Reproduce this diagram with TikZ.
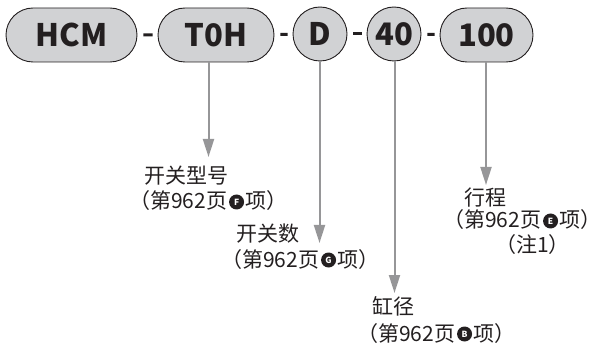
\documentclass[tikz,border=0pt]{standalone}
\usepackage{fontspec}
\setmainfont{Noto Sans CJK SC}
\usetikzlibrary{arrows.meta,shapes.misc}
\definecolor{boxgray}{RGB}{209,210,212}
\definecolor{arrowgray}{RGB}{150,150,152}
\definecolor{ink}{RGB}{35,31,32}
\tikzset{
	pill/.style={rounded rectangle,draw=ink,line width=0.9pt,fill=boxgray,minimum height=54pt,inner sep=0pt,text=ink,font=\bfseries\fontsize{31}{31}\selectfont},
	disc/.style={circle,draw=ink,line width=0.9pt,fill=boxgray,minimum size=54pt,inner sep=0pt,text=ink,font=\bfseries\fontsize{31}{31}\selectfont},
	hyphen/.style={line width=3pt,ink,shorten <=6pt,shorten >=5pt},
	ptr/.style={line width=2pt,arrowgray,-{Triangle[length=18pt,width=11pt]}},
	lbl/.style={anchor=base west,inner sep=0pt,text=ink,font=\fontsize{21}{21}\selectfont},
	badge/.style={circle,fill=ink,text=white,inner sep=0pt,minimum size=15pt,anchor=west,font=\bfseries\fontsize{8.5}{8.5}\selectfont}
}
\begin{document}
\begin{tikzpicture}[x=1pt,y=-1pt]
	\useasboundingbox (0,0) rectangle (603,350);
	\node[pill,minimum width=131pt] (hcm) at (71.5,35) {HCM};
	\node[pill,minimum width=116pt] (toh) at (216,35) {T0H};
	\node[disc] (d) at (320,34) {D};
	\node[disc] (bore) at (394,34) {40};
	\node[pill,minimum width=93pt] (stroke) at (486.5,35) {100};
	\draw[hyphen] (hcm) -- (toh);
	\draw[hyphen] (toh) -- (d);
	\draw[hyphen] (d) -- (bore);
	\draw[hyphen] (bore) -- (stroke);
	
	\coordinate (tipF) at (208.5,157);
	\coordinate (tipG) at (319.5,243);
	\coordinate (tipB) at (394.5,293);
	\coordinate (tipE) at (486,185);
	\draw[ptr] (toh.south -| tipF) -- (tipF);
	\draw[ptr] (d.south -| tipG) -- (tipG);
	\draw[ptr] (bore.south -| tipB) -- (tipB);
	\draw[ptr] (stroke.south -| tipE) -- (tipE);
	
	\node[lbl] (swtype) at (144,183.5) {开关型号};
	\node[lbl] (swtyperef) at (129,209) {（第962页};
	\node[badge] (keyF) at ([xshift=1.5pt,yshift=7pt]swtyperef.base east) {F};
	\node[lbl] at ([xshift=1.5pt]keyF.east |- swtyperef.base) {项）};
	
	\node[lbl] (swnum) at (236,242) {开关数};
	\node[lbl] (swnumref) at (221,267) {（第962页};
	\node[badge] (keyG) at ([xshift=1.5pt,yshift=7pt]swnumref.base east) {G};
	\node[lbl] at ([xshift=1.5pt]keyG.east |- swnumref.base) {项）};
	
	\node[lbl] (borelbl) at (372,314) {缸径};
	\node[lbl] (boreref) at (357,341) {（第962页};
	\node[badge] (keyB) at ([xshift=1.5pt,yshift=7pt]boreref.base east) {B};
	\node[lbl] at ([xshift=1.5pt]keyB.east |- boreref.base) {项）};
	
	\node[lbl] (strokelbl) at (464,206) {行程};
	\node[lbl] (strokeref) at (443,228) {（第962页};
	\node[badge] (keyE) at ([xshift=1.5pt,yshift=7pt]strokeref.base east) {E};
	\node[lbl] at ([xshift=1.5pt]keyE.east |- strokeref.base) {项）};
	\node[lbl] (strokenote) at (495,252) {（注1）};
\end{tikzpicture}
\end{document}
